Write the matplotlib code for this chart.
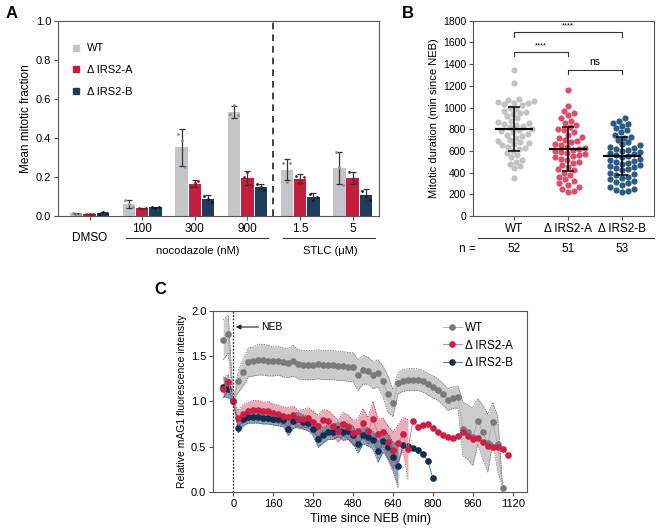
import numpy as np
import matplotlib
matplotlib.use("Agg")
import matplotlib.pyplot as plt
from matplotlib.lines import Line2D

plt.rcParams["font.family"] = ["Liberation Sans", "DejaVu Sans"]
plt.rcParams["font.size"] = 7

# ---------------- panel A data ----------------
conditions = ["DMSO", "100", "300", "900", "1.5", "5"]
wt_mean = [0.013, 0.062, 0.352, 0.533, 0.238, 0.246]
wt_sd = [0.003, 0.020, 0.095, 0.030, 0.055, 0.083]
a_mean = [0.010, 0.039, 0.166, 0.195, 0.192, 0.196]
a_sd = [0.002, 0.004, 0.017, 0.035, 0.022, 0.030]
b_mean = [0.014, 0.044, 0.087, 0.148, 0.096, 0.106]
b_sd = [0.004, 0.003, 0.020, 0.016, 0.020, 0.030]
wt_reps = [[0.015, 0.012, 0.012], [0.080, 0.060, 0.045], [0.420, 0.390, 0.250],
           [0.520, 0.568, 0.515], [0.270, 0.176, 0.270], [0.330, 0.250, 0.160]]
a_reps = [[0.010, 0.009, 0.011], [0.040, 0.035, 0.042], [0.150, 0.170, 0.180],
          [0.200, 0.225, 0.160], [0.206, 0.167, 0.198], [0.225, 0.190, 0.175]]
b_reps = [[0.010, 0.018, 0.015], [0.045, 0.043, 0.046], [0.100, 0.085, 0.070],
          [0.163, 0.150, 0.132], [0.115, 0.080, 0.095], [0.130, 0.105, 0.080]]
labels_ko = ["WT", "\u0394\u2009IRS2-A", "\u0394\u2009IRS2-B"]

# ---------------- panel B data ----------------
wt_dur = [1350, 1230, 1080, 1070, 1060, 1050, 1045, 1040, 1030, 1020,
          1000, 990, 970, 960, 950, 940, 920, 900, 880, 870,
          860, 850, 840, 830, 820, 800, 790, 780, 770, 760,
          750, 740, 720, 700, 690, 680, 670, 660, 650, 640,
          630, 620, 600, 580, 560, 540, 520, 500, 480, 460,
          440, 350]
a_dur = [1160, 1010, 970, 950, 930, 900, 880, 860, 840, 820,
         800, 790, 770, 750, 730, 720, 700, 690, 680, 660,
         650, 640, 630, 620, 610, 600, 590, 580, 570, 560,
         550, 540, 530, 520, 500, 490, 470, 450, 430, 420,
         400, 380, 360, 340, 320, 300, 290, 270, 250, 230,
         220]
b_dur = [900, 880, 860, 850, 830, 810, 790, 770, 750, 730,
         720, 700, 680, 660, 650, 640, 630, 620, 610, 600,
         590, 580, 570, 560, 550, 540, 530, 520, 510, 500,
         490, 480, 470, 460, 450, 440, 430, 420, 400, 390,
         380, 360, 350, 340, 320, 310, 300, 290, 270, 250,
         240, 230, 220]
dur_mean = [805, 617, 553]
dur_sd = [203, 205, 178]
n_cells = [52, 51, 53]

# ---------------- panel C data ----------------
wt_t = np.arange(-40, 1081, 20)
wt_c = [1.68, 1.74, 1.00,
        1.22, 1.32, 1.43, 1.44, 1.46, 1.46, 1.45, 1.44, 1.45, 1.43,
        1.42, 1.45, 1.41, 1.40, 1.40, 1.40, 1.41, 1.40, 1.40, 1.40,
        1.39, 1.39, 1.38, 1.38,
        1.29, 1.35, 1.34, 1.29, 1.31, 1.22, 1.08, 0.98, 1.20, 1.23,
        1.24, 1.24, 1.24, 1.22, 1.19, 1.16, 1.13, 1.08, 1.02, 1.04,
        1.05, 0.70, 0.66, 0.61, 0.78, 0.66, 0.54, 0.77, 0.53, 0.04]
wt_err = [0.22, 0.21, 0.0,
          0.12, 0.15, 0.16, 0.16, 0.17, 0.17, 0.17, 0.16, 0.16, 0.16,
          0.16, 0.17, 0.16, 0.16, 0.16, 0.16, 0.16, 0.16, 0.16, 0.16,
          0.16, 0.16, 0.16, 0.16,
          0.17, 0.16, 0.15, 0.15, 0.15, 0.17, 0.20, 0.15, 0.12, 0.12,
          0.12, 0.12, 0.12, 0.12, 0.12, 0.12, 0.12, 0.12, 0.12, 0.12,
          0.12, 0.30, 0.30, 0.32, 0.25, 0.30, 0.32, 0.22, 0.30, 0.0]
a_t = np.arange(-40, 1101, 20)
a_c = [1.14, 1.21, 1.00,
       0.82, 0.86, 0.89, 0.91, 0.91, 0.89, 0.89, 0.87, 0.86, 0.84,
       0.83, 0.85, 0.80, 0.81, 0.82, 0.77, 0.73, 0.79, 0.78, 0.73,
       0.67, 0.75, 0.72, 0.65, 0.67, 0.76, 0.67, 0.81, 0.64, 0.66,
       0.55, 0.46, 0.54, 0.64, 0.47,
       0.78, 0.72, 0.74, 0.75, 0.71, 0.66, 0.63, 0.61, 0.60, 0.62,
       0.66, 0.62, 0.59, 0.60, 0.55, 0.51, 0.50, 0.50, 0.47, 0.41]
a_err = [0.10, 0.09, 0.0,
         0.08, 0.10, 0.10, 0.10, 0.10, 0.10, 0.11, 0.10, 0.10, 0.10,
         0.10, 0.10, 0.10, 0.10, 0.11, 0.12, 0.12, 0.12, 0.12, 0.12,
         0.12, 0.13, 0.13, 0.14, 0.14, 0.16, 0.15, 0.19, 0.16, 0.16,
         0.18, 0.20, 0.20, 0.18, 0.33] + [np.nan] * 20
b_t = np.arange(-40, 801, 20)
b_c = [1.16, 1.14, 1.00,
       0.71, 0.80, 0.83, 0.83, 0.83, 0.82, 0.82, 0.81, 0.80, 0.79,
       0.70, 0.78, 0.80, 0.77, 0.76, 0.70, 0.58, 0.63, 0.66, 0.66,
       0.69, 0.66, 0.67, 0.63, 0.53, 0.63, 0.61, 0.57, 0.45, 0.56,
       0.50, 0.39, 0.29, 0.52, 0.51, 0.49, 0.46, 0.42, 0.34, 0.15]
b_err = [0.11, 0.10, 0.0,
         0.06, 0.07, 0.07, 0.07, 0.07, 0.07, 0.07, 0.07, 0.07, 0.07,
         0.08, 0.08, 0.08, 0.08, 0.08, 0.08, 0.09, 0.09, 0.08, 0.08,
         0.08, 0.09, 0.09, 0.10, 0.10, 0.10, 0.10, 0.10, 0.12, 0.12,
         0.14, 0.16, 0.24] + [np.nan] * 7

WT_BAR, A_BAR, B_BAR = "#c5c4c9", "#c51d3d", "#1c3d5b"
SPINE = "#555555"


def style_box(ax, xs=7.5, ys=7.5):
    for s in ax.spines.values():
        s.set_linewidth(0.8)
        s.set_color(SPINE)
    ax.tick_params(length=3, width=0.8, color=SPINE, pad=2)
    ax.tick_params(axis="x", labelsize=xs)
    ax.tick_params(axis="y", labelsize=ys)


def swarm(vals, px_y, d=5.8, step=1.5):
    vals = np.asarray(vals, float)
    offs = np.zeros(len(vals))
    placed = []
    for i in np.argsort(vals):
        y = vals[i] * px_y
        k = 0
        while True:
            cands = [0.0] if k == 0 else [k * step, -k * step]
            done = False
            for c in cands:
                if all((c - px) ** 2 + (y - py) ** 2 >= d * d for px, py in placed):
                    offs[i] = c
                    placed.append((c, y))
                    done = True
                    break
            if done:
                break
            k += 1
    return offs


fig = plt.figure(figsize=(6.62, 5.31), dpi=100)

# ===== A =====
axA = fig.add_axes([0.0876, 0.5932, 0.4849, 0.3678])
x = np.arange(len(conditions))
w, off = 0.235, 0.252
for j, (m, sd, reps, col, dotc) in enumerate([
        (wt_mean, wt_sd, wt_reps, WT_BAR, "#8c8c8c"),
        (a_mean, a_sd, a_reps, A_BAR, "#9a0f2a"),
        (b_mean, b_sd, b_reps, B_BAR, "#0b1c2c")]):
    xs = x + (j - 1) * off
    axA.bar(xs, m, width=w, color=col, zorder=2)
    axA.errorbar(xs, m, yerr=sd, fmt="none", ecolor="#333333", elinewidth=0.9,
                 capsize=2, capthick=0.9, zorder=3)
    for xi, r in zip(xs, reps):
        axA.scatter(xi + np.array([-0.07, 0.0, 0.07]), r, s=4, color=dotc, zorder=4, linewidths=0)
axA.axvline(3.48, color="#222222", lw=1.2, ls=(0, (4, 3)))
axA.set_xlim(-0.6, 5.5)
axA.set_ylim(0, 1.0)
axA.set_yticks(np.arange(0, 1.01, 0.2))
axA.set_yticklabels([f"{v:.1f}" for v in np.arange(0, 1.01, 0.2)])
axA.set_xticks(x)
axA.set_xticklabels([""] + conditions[1:])
axA.set_ylabel("Mean mitotic fraction", fontsize=8.5, labelpad=3)
style_box(axA, xs=8.5, ys=8)
tr = axA.get_xaxis_transform()
axA.text(0, -0.113, "DMSO", transform=tr, ha="center", va="center", fontsize=8.5)
axA.plot([0.69, 3.39], [-0.112, -0.112], transform=tr, color="#333333", lw=0.8, clip_on=False)
axA.plot([3.68, 5.43], [-0.112, -0.112], transform=tr, color="#333333", lw=0.8, clip_on=False)
axA.text(2.05, -0.178, "nocodazole (nM)", transform=tr, ha="center", va="center", fontsize=8)
axA.text(4.58, -0.178, "STLC (\u03bcM)", transform=tr, ha="center", va="center", fontsize=8)
hA = [Line2D([], [], marker="s", ls="none", color=c, markersize=5) for c in (WT_BAR, A_BAR, B_BAR)]
axA.legend(hA, labels_ko, loc="upper left",
           bbox_to_anchor=(0.01, 0.935), frameon=False, fontsize=8,
           handlelength=0.8, handletextpad=0.6, labelspacing=1.05)
fig.text(0.008, 0.975, "A", fontsize=12, fontweight="bold", va="center")

# ===== B =====
axB = fig.add_axes([0.7145, 0.5932, 0.2734, 0.3678])
px_y = 195.3 / 1800.0
px_x = 54.0
for j, (vals, col) in enumerate([(wt_dur, "#c2c2c2"), (a_dur, "#de4d6b"), (b_dur, "#2a5b88")]):
    o = swarm(vals, px_y) / px_x
    axB.scatter(j + o, vals, s=20, color=col, linewidths=0, zorder=2)
    axB.plot([j - 0.34, j + 0.34], [dur_mean[j]] * 2, color="black", lw=1.6, zorder=3)
    axB.errorbar([j], [dur_mean[j]], yerr=[dur_sd[j]], fmt="none", ecolor="black",
                 elinewidth=1.1, capsize=4, capthick=1.1, zorder=3)
axB.set_xlim(-0.76, 2.59)
axB.set_ylim(0, 1800)
axB.set_yticks(np.arange(0, 1801, 200))
axB.set_xticks([0, 1, 2])
axB.set_xticklabels(labels_ko)
axB.set_ylabel("Mitotic duration (min since NEB)", fontsize=8, labelpad=3)
style_box(axB, xs=8.5, ys=7.5)


def bracket(ax, x0, x1, y, drop, label, fs):
    ax.plot([x0, x0, x1, x1], [y - drop, y, y, y - drop], color="#333333", lw=0.8, zorder=3)
    ax.text((x0 + x1) / 2, y + 25, label, ha="center", va="bottom", fontsize=fs)


bracket(axB, 0, 2, 1693, 40, "****", 5.5)
bracket(axB, 0, 1, 1508, 35, "****", 5.5)
bracket(axB, 1, 2, 1345, 38, "ns", 7.5)
trB = axB.get_xaxis_transform()
axB.plot([-0.67, 2.59], [-0.113, -0.113], transform=trB, color="#333333", lw=0.8, clip_on=False)
axB.text(-0.86, -0.168, "n =", transform=trB, ha="center", va="center", fontsize=8.5)
for j, n in enumerate(n_cells):
    axB.text(j, -0.168, str(n), transform=trB, ha="center", va="center", fontsize=8.5)
fig.text(0.607, 0.975, "B", fontsize=12, fontweight="bold", va="center")

# ===== C =====
axC = fig.add_axes([0.3222, 0.0734, 0.4738, 0.3415])
series = [
    (wt_t, wt_c, wt_err, "#7a7a7a", "#b0b0b0", "#c4c4c4", 0.85, "#666666"),
    (a_t, a_c, a_err, "#cc1f45", "#e07a8e", "#d9687e", 0.55, "#b03050"),
    (b_t, b_c, b_err, "#0f2f4f", "#5a7896", "#4d7191", 0.65, "#2c4a66"),
]
for t, c, e, mc, lc, fc, fa, ec in series:
    c = np.asarray(c)
    e = np.asarray(e, float)
    axC.fill_between(t, c - e, c + e, color=fc, alpha=fa, lw=0, zorder=1)
    axC.plot(t, c - e, color=ec, lw=0.5, ls=(0, (2, 1.5)), zorder=1.5)
    axC.plot(t, c + e, color=ec, lw=0.5, ls=(0, (2, 1.5)), zorder=1.5)
handles = []
for (t, c, e, mc, lc, fc, fa, ec), z in zip(series, [3, 5, 4]):
    axC.plot(t, c, color=lc, lw=0.7, zorder=z - 0.5)
    axC.plot(t, c, ls="none", marker="o", markersize=4.8, color=mc, markeredgewidth=0, zorder=z)
    handles.append(Line2D([], [], color=lc, lw=0.7, marker="o", markersize=4.8,
                          markerfacecolor=mc, markeredgewidth=0))
axC.axvline(0, color="#222222", lw=0.9, ls=(0, (1.5, 1.2)), zorder=6)
axC.annotate("NEB", xy=(10, 1.82), xytext=(112, 1.82), va="center", ha="left", fontsize=7.5,
             arrowprops=dict(arrowstyle="-|>", color="#222222", lw=0.8, mutation_scale=7,
                             shrinkA=0, shrinkB=0))
axC.set_xlim(-80, 1177)
axC.set_ylim(0, 2.0)
axC.set_xticks(np.arange(0, 1121, 160))
axC.set_yticks([0, 0.5, 1.0, 1.5, 2.0])
axC.set_yticklabels(["0.0", "0.5", "1.0", "1.5", "2.0"])
axC.set_xlabel("Time since NEB (min)", fontsize=9, labelpad=3)
axC.set_ylabel("Relative mAG1 fluorescence intensity", fontsize=7.5, labelpad=3)
style_box(axC, xs=8, ys=8)
axC.legend(handles, labels_ko, loc="upper right",
           bbox_to_anchor=(0.99, 0.995), frameon=False, fontsize=8.5,
           handlelength=1.6, handletextpad=0.3, labelspacing=0.45)
fig.text(0.233, 0.455, "C", fontsize=12, fontweight="bold", va="center")

fig.savefig("out.png", dpi=100)
